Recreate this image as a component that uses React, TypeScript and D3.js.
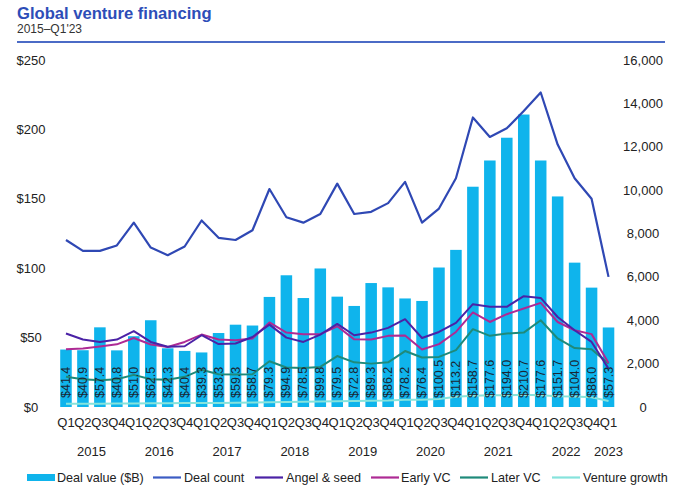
import * as d3 from "d3";

const quarters = [
  "Q1", "Q2", "Q3", "Q4", "Q1", "Q2", "Q3", "Q4", "Q1", "Q2", "Q3", "Q4",
  "Q1", "Q2", "Q3", "Q4", "Q1", "Q2", "Q3", "Q4", "Q1", "Q2", "Q3", "Q4",
  "Q1", "Q2", "Q3", "Q4", "Q1", "Q2", "Q3", "Q4", "Q1",
];
const years = ["2015", "2016", "2017", "2018", "2019", "2020", "2021", "2022", "2023"];

const dealValue = [
  41.4, 40.9, 57.4, 40.8, 51.0, 62.5, 42.3, 40.4, 39.3, 53.3, 59.3, 58.7,
  79.3, 94.9, 78.5, 99.8, 79.5, 72.8, 89.3, 86.2, 78.2, 76.4, 100.5, 113.2,
  158.7, 177.6, 194.0, 210.7, 177.6, 151.7, 104.0, 86.0, 57.3,
];
const dealCount = [
  7700, 7200, 7200, 7450, 8500, 7350, 7000, 7400, 8600, 7800, 7700, 8150,
  10050, 8750, 8500, 8900, 10300, 8900, 9000, 9400, 10380, 8500, 9150, 10550,
  13350, 12450, 12850, 13650, 14500, 12100, 10550, 9600, 6000,
];
const angelSeed = [
  3390, 3110, 3000, 3110, 3500, 3000, 2780, 2800, 3310, 2900, 2930, 3230,
  3800, 3200, 3000, 3340, 3830, 3310, 3430, 3650, 4050, 3180, 3460, 3880,
  4740, 4620, 4620, 5110, 5030, 4150, 3540, 3000, 1770,
];
const earlyVC = [
  2660, 2700, 2790, 2890, 3180, 2880, 2770, 3000, 3340, 3110, 3080, 3160,
  3900, 3430, 3360, 3360, 3720, 3120, 3110, 3280, 3300, 2650, 2900, 3460,
  4360, 3920, 4280, 4540, 4800, 3920, 3540, 3360, 2030,
];
const laterVC = [
  1390, 1280, 1230, 1280, 1480, 1280, 1260, 1390, 1720, 1510, 1500, 1510,
  2110, 1820, 1800, 1850, 2350, 2060, 2000, 2060, 2580, 2280, 2310, 2620,
  3590, 3280, 3390, 3430, 4000, 3160, 2720, 2660, 2000,
];
const ventureGrowth = [
  150, 150, 155, 160, 165, 170, 175, 180, 185, 190, 200, 210,
  220, 230, 245, 255, 265, 280, 290, 300, 330, 340, 370, 470,
  520, 540, 540, 560, 540, 500, 480, 450, 280,
];
const leftTicks = [0, 50, 100, 150, 200, 250];
const rightTicks = [0, 2000, 4000, 6000, 8000, 10000, 12000, 14000, 16000];

const BAR = "#0fb4ec";
const COUNT = "#2f48b4";
const ANGEL = "#4b22a6";
const EARLY = "#ae2a94";
const LATER = "#1f8a7a";
const GROWTH = "#86e3dc";
const FONT = "Liberation Sans, Arial, sans-serif";

const App = () => {
  const idx = quarters.map((_, i) => i);
  const x = d3.scaleBand<number>().domain(idx).range([57.5, 617]).paddingInner(0.32).paddingOuter(0.16);
  const yL = d3.scaleLinear().domain([0, 250]).range([407, 60]);
  const yR = d3.scaleLinear().domain([0, 16000]).range([407, 60]);
  const cx = (i: number) => (x(i) as number) + x.bandwidth() / 2;

  const line = d3.line<number>().x((_, i) => cx(i)).y((d) => yR(d));

  // drawn back to front, deal count on top
  const lines = [
    { data: ventureGrowth, color: GROWTH, w: 2 },
    { data: laterVC, color: LATER, w: 2 },
    { data: earlyVC, color: EARLY, w: 2 },
    { data: angelSeed, color: ANGEL, w: 2 },
    { data: dealCount, color: COUNT, w: 2.2 },
  ];

  const legend = [
    { label: "Deal value ($B)", color: BAR, bar: true, x: 27, tx: 57 },
    { label: "Deal count", color: "#3c5cc4", bar: false, x: 153, tx: 184 },
    { label: "Angel & seed", color: ANGEL, bar: false, x: 255, tx: 286 },
    { label: "Early VC", color: EARLY, bar: false, x: 371, tx: 401 },
    { label: "Later VC", color: LATER, bar: false, x: 460, tx: 491 },
    { label: "Venture growth", color: GROWTH, bar: false, x: 552, tx: 583 },
  ];

  const fmtL = (d: number) => "$" + d;
  const fmtR = d3.format(",");

  return (
    <svg width={680} height={504} style={{ position: "absolute", left: 0, top: 0, background: "#fff" }} fontFamily={FONT}>
      <text x={17} y={19} fontSize={16.6} fontWeight="bold" fill="#2d4db8">Global venture financing</text>
      <text x={17} y={33} fontSize={12} fill="#333">2015–Q1'23</text>
      <line x1={17} x2={665} y1={42} y2={42} stroke="#4b6bc6" strokeWidth={2} />

      {leftTicks.map((t) => (
        <text key={"l" + t} x={31} y={yL(t)} dy="0.35em" textAnchor="middle" fontSize={13} fill="#222">{fmtL(t)}</text>
      ))}
      {rightTicks.map((t) => (
        <text key={"r" + t} x={643} y={yR(t)} dy="0.35em" textAnchor="middle" fontSize={13} fill="#222">{fmtR(t)}</text>
      ))}

      {dealValue.map((v, i) => (
        <rect key={"b" + i} x={x(i)} y={yL(v)} width={x.bandwidth()} height={yL(0) - yL(v)} fill={BAR} />
      ))}

      {lines.map((l, k) => (
        <path key={"p" + k} d={line(l.data) || ""} fill="none" stroke={l.color} strokeWidth={l.w} strokeLinejoin="round" />
      ))}

      {dealValue.map((v, i) => (
        <text key={"v" + i} transform={`translate(${cx(i)},398) rotate(-90)`} dominantBaseline="central" fontSize={12.5} fill="#1b2633">
          {"$" + v.toFixed(1)}
        </text>
      ))}

      {quarters.map((q, i) => (
        <text key={"q" + i} x={cx(i)} y={427} textAnchor="middle" fontSize={13} fill="#222">{q}</text>
      ))}
      {years.map((yr, k) => {
        const start = k * 4;
        const end = Math.min(start + 3, quarters.length - 1);
        const mid = (cx(start) + cx(end)) / 2;
        return <text key={"y" + yr} x={mid} y={456} textAnchor="middle" fontSize={13} fill="#222">{yr}</text>;
      })}

      {legend.map((l) => (
        <g key={l.label}>
          {l.bar ? (
            <rect x={l.x} y={474} width={28} height={7} fill={l.color} />
          ) : (
            <line x1={l.x} x2={l.x + 28} y1={477.5} y2={477.5} stroke={l.color} strokeWidth={2.2} />
          )}
          <text x={l.tx} y={477.5} dy="0.35em" fontSize={12.6} fill="#222">{l.label}</text>
        </g>
      ))}
    </svg>
  );
};

export default App;
